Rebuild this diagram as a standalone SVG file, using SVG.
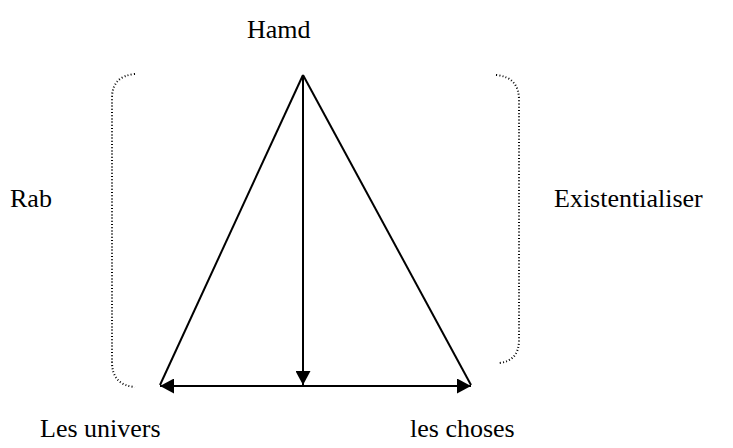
<svg xmlns="http://www.w3.org/2000/svg" width="733" height="448" viewBox="0 0 733 448">
<style>
text{font-family:"Liberation Serif","Times New Roman",serif;font-size:26px;fill:#000}
.ln{stroke:#000;stroke-width:2;fill:none}
.br{stroke:#000;stroke-width:2;fill:none;stroke-dasharray:1 2.2}
</style>
<defs>
<marker id="ah" markerWidth="15" markerHeight="15" viewBox="0 0 15 15" refX="14" refY="7.5" orient="auto-start-reverse" markerUnits="userSpaceOnUse">
<path d="M0,0 L14,7.5 L0,15 z" fill="#000"/>
</marker>
</defs>
<rect width="733" height="448" fill="#fff"/>
<g id="connectors">
<line class="ln" x1="303" y1="75" x2="160" y2="385"/>
<line class="ln" x1="303" y1="75" x2="471" y2="385"/>
<line class="ln" x1="303" y1="75" x2="303" y2="385" marker-end="url(#ah)"/>
<line class="ln" x1="160" y1="386" x2="471" y2="386" marker-start="url(#ah)" marker-end="url(#ah)"/>
<path class="br" d="M135,74 Q112,76 112,98 L112,362 Q112,385 135,387"/>
<path class="br" d="M496,75 Q519,77 519,100 L519,340 Q519,361 499,363"/>
</g>
<g id="hamd"><text x="247" y="38">Hamd</text></g>
<g id="rab"><text x="10" y="207">Rab</text></g>
<g id="existentialiser"><text x="554" y="207">Existentialiser</text></g>
<g id="les-univers"><text x="40" y="437">Les univers</text></g>
<g id="les-choses"><text x="410" y="437">les choses</text></g>
</svg>
